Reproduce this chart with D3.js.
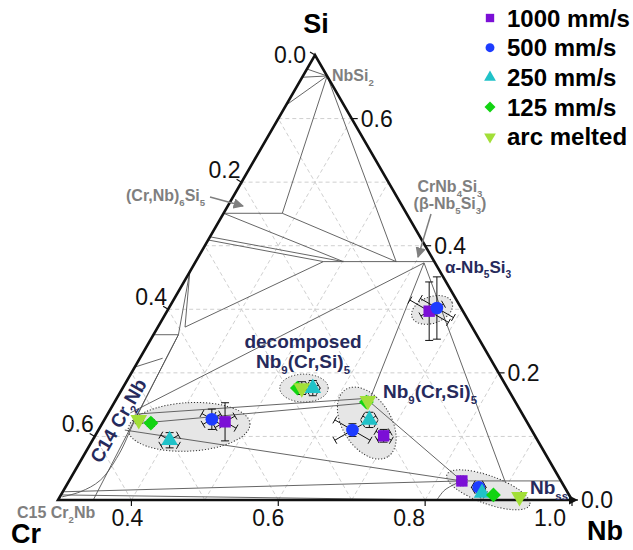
<!DOCTYPE html>
<html>
<head>
<meta charset="utf-8">
<script src="https://cdn.jsdelivr.net/npm/d3@7"></script>
<style>
  body { margin: 0; background: #fff; }
  text { font-family: "Liberation Sans", Arial, sans-serif; }
</style>
</head>
<body>
<svg id="chart" width="633" height="550"></svg>
<script>
// legend / series
const speedLabels = ["1000 mm/s", "500 mm/s", "250 mm/s", "125 mm/s", "arc melted"];
const speedColors = ["#7b0fd6", "#1d3cff", "#20c2c8", "#12d412", "#a2df38"];

// measured phase compositions [Nb, Si] (at. fraction), one list per cooling rate
const pts1000 = [[0.466, 0.123], [0.693, 0.101], [0.657, 0.297], [0.835, 0.030]];
const pts500 = [[0.446, 0.127], [0.646, 0.110], [0.665, 0.302], [0.863, 0.020]];
const pts250 = [[0.405, 0.094], [0.559, 0.176], [0.661, 0.126], [0.872, 0.011]];
const pts125 = [[0.366, 0.121], [0.538, 0.176], [0.643, 0.154], [0.889, 0.008]];
const ptsArc = [[0.347, 0.126], [0.544, 0.176], [0.644, 0.156], [0.926, 0.005]];

// error half-widths [Si, Nb, Cr]
const err1000 = [[0.030, 0.020, 0.018], [0.010, 0.014, 0.012], [0.046, 0.035, 0.015], [0.004, 0.006, 0.006]];
const err500 = [[0.016, 0.018, 0.016], [0.010, 0.032, 0.032], [0.049, 0.030, 0.012], [0.006, 0.010, 0.010]];
const err250 = [[0.012, 0.016, 0.016], [0.012, 0.010, 0.010], [0.012, 0.012, 0.012], [0.005, 0.006, 0.006]];
const err125 = [[0.005, 0.006, 0.006], [0.004, 0.004, 0.004], [0.004, 0.005, 0.005], [0.003, 0.004, 0.004]];
const errArc = [[0.005, 0.006, 0.006], [0.010, 0.010, 0.010], [0.004, 0.005, 0.005], [0.003, 0.004, 0.004]];

// phase boundaries / tie lines, [[Nb, Si], [Nb, Si]]
const tieLines = [
  [[0.333, 0.667], [0.30, 0.665]],
  [[0.333, 0.667], [0.30, 0.678]],
  [[0.333, 0.667], [0.30, 0.621]],
  [[0.333, 0.667], [0.380, 0.451]],
  [[0.333, 0.667], [0.573, 0.375]],
  [[0.30, 0.451], [0.380, 0.451]],
  [[0.380, 0.451], [0.573, 0.375]],
  [[0.30, 0.451], [0.501, 0.375]],
  [[0.30, 0.414], [0.501, 0.375]],
  [[0.30, 0.409], [0.474, 0.375]],
  [[0.474, 0.375], [0.625, 0.375]],
  [[0.337, 0.272], [0.474, 0.375]],
  [[0.30, 0.359], [0.334, 0.260]],
  [[0.30, 0.359], [0.337, 0.272]],
  [[0.30, 0.260], [0.334, 0.260]],
  [[0.30, 0.209], [0.331, 0.223]],
  [[0.348, 0.0], [0.334, 0.260]],
  [[0.330, 0.137], [0.612, 0.373]],
  [[0.337, 0.135], [0.642, 0.160]],
  [[0.345, 0.120], [0.646, 0.153]],
  [[0.336, 0.110], [0.835, 0.030]],
  [[0.648, 0.154], [0.835, 0.030]],
  [[0.612, 0.373], [0.646, 0.155]],
  [[0.612, 0.373], [0.896, 0.027]],
  [[0.625, 0.375], [0.973, 0.027]],
  [[0.302, 0.013], [0.835, 0.030]],
  [[0.301, 0.008], [0.816, 0.0]],
  [[0.835, 0.030], [0.970, 0.030]]
];
const c14Boundary = [[0.334, 0.260], [0.342, 0.126], [0.347, 0.071], [0.342, 0.031], [0.324, 0.013], [0.303, 0.005]];
const nbssBoundary = [[0.816, 0.0], [0.819, 0.016], [0.835, 0.030]];

// phase-field outlines: [Nb, Si, semi-axis a, semi-axis b, tilt deg]
const phaseFields = [
  [0.421, 0.115, 0.083, 0.033, -3],
  [0.547, 0.176, 0.033, 0.019, 0],
  [0.660, 0.121, 0.054, 0.033, 58],
  [0.660, 0.299, 0.029, 0.018, -20],
  [0.878, 0.016, 0.060, 0.019, 20]
];

const nbTicks = [0.4, 0.6, 0.8, 1.0];
const crTicks = [0.0, 0.2, 0.4, 0.6];
const siTicks = [0.0, 0.2, 0.4, 0.6];

const svg = d3.select("#chart");

// ternary frame: Nb from 0.3 to 1, Si from 0 to 0.7
const nbScale = d3.scaleLinear().domain([0.3, 1.0]).range([58, 572]);
const siScale = d3.scaleLinear().domain([0, 0.7]).range([500, 55]);
const unit = siScale(0) - siScale(1); // px per unit of composition (perpendicular)

function pos(nb, si) {
  return [nbScale(nb + si / 2), siScale(si)];
}

const line = d3.line().x((d) => pos(d[0], d[1])[0]).y((d) => pos(d[0], d[1])[1]);

// grid
const grid = svg.append("g").attr("stroke", "#c9c9c9").attr("stroke-dasharray", "4,3").attr("stroke-width", 0.9);
d3.range(1, 7).forEach((i) => {
  const v = i / 10;
  grid.append("path").attr("d", line([[0.3, v], [1 - v, v]]));             // Si const
  grid.append("path").attr("d", line([[0.3 + v, 0], [0.3 + v, 0.7 - v]])); // Nb const
  grid.append("path").attr("d", line([[1 - v, 0], [0.3, 0.7 - v]]));       // Cr const
});

// phase field ellipses
svg.append("g").selectAll("ellipse").data(phaseFields).join("ellipse")
  .attr("cx", 0).attr("cy", 0)
  .attr("rx", (d) => d[2] * (nbScale(1) - nbScale(0)))
  .attr("ry", (d) => d[3] * (nbScale(1) - nbScale(0)))
  .attr("transform", (d) => { const p = pos(d[0], d[1]); return `translate(${p[0]},${p[1]}) rotate(${d[4]})`; })
  .attr("fill", "#e6e6e6")
  .attr("stroke", "#333")
  .attr("stroke-width", 1)
  .attr("stroke-dasharray", "1.2,1.8");

// phase lines
const phase = svg.append("g").attr("fill", "none").attr("stroke", "#555").attr("stroke-width", 0.9);
phase.selectAll("path.tie").data(tieLines).join("path").attr("class", "tie").attr("d", line);
const curve = d3.line().curve(d3.curveCatmullRom).x((d) => pos(d[0], d[1])[0]).y((d) => pos(d[0], d[1])[1]);
phase.append("path").attr("d", curve(c14Boundary));
phase.append("path").attr("d", curve(nbssBoundary));

// frame
const BL = pos(0.3, 0), BR = pos(1, 0), TOP = pos(0.3, 0.7);
svg.append("path")
  .attr("d", `M${BL}L${BR}L${TOP}Z`)
  .attr("fill", "none").attr("stroke", "#111").attr("stroke-width", 2.6).attr("stroke-linejoin", "miter");
svg.append("path")
  .attr("d", `M${BR[0] + 6},${BR[1]}l-9,-4.5l0,9z`).attr("fill", "#111");

// ticks and tick labels
const ticks = svg.append("g").attr("stroke", "#111").attr("stroke-width", 1.2);
const tickLabels = svg.append("g").attr("font-size", 23).attr("fill", "#111");
nbTicks.forEach((v) => {
  const x = nbScale(v);
  ticks.append("line").attr("x1", x).attr("x2", x).attr("y1", 500).attr("y2", 506);
  tickLabels.append("text").attr("x", x - 4 - 30 * (v - 0.4)).attr("y", 526)
    .attr("text-anchor", "middle").text(v.toFixed(1));
});
crTicks.forEach((v) => {
  const p = pos(0.3, 0.7 - v);
  ticks.append("line").attr("x1", p[0]).attr("y1", p[1]).attr("x2", p[0] - 5).attr("y2", p[1] - 3);
  const apex = v === 0;
  tickLabels.append("text").attr("x", p[0] - (apex ? 25 : 17)).attr("y", p[1] + (apex ? 8 : -4))
    .attr("text-anchor", "middle").text(v.toFixed(1));
});
siTicks.forEach((v) => {
  const p = pos(1 - v, v);
  ticks.append("line").attr("x1", p[0]).attr("y1", p[1]).attr("x2", p[0] + 6).attr("y2", p[1]);
  tickLabels.append("text").attr("x", p[0] + 9).attr("y", p[1] + 8).text(v.toFixed(1));
});

// corner labels
const corner = svg.append("g").attr("font-size", 27).attr("font-weight", "bold").attr("fill", "#000");
corner.append("text").attr("x", 316).attr("y", 33).attr("text-anchor", "middle").text("Si");
corner.append("text").attr("x", 26).attr("y", 543).attr("text-anchor", "middle").text("Cr");
corner.append("text").attr("x", 587).attr("y", 540).text("Nb");

// rich text with subscripts
function rich(parent, parts, x, y, size, color, anchor, rotate) {
  const t = parent.append("text")
    .attr("font-size", size).attr("font-weight", "bold").attr("fill", color)
    .attr("text-anchor", anchor || "start");
  if (rotate) t.attr("transform", `translate(${x},${y}) rotate(${rotate})`);
  else t.attr("x", x).attr("y", y);
  let shift = 0;
  parts.forEach((p) => {
    const sub = Array.isArray(p);
    const target = sub ? size * 0.3 : 0;
    const s = t.append("tspan").text(sub ? p[0] : p).attr("dy", target - shift);
    if (sub) s.attr("font-size", size * 0.6);
    shift = target;
  });
  return t;
}

const navy = "#262a5c", gray = "#7f7f7f";
const notes = svg.append("g");
rich(notes, ["NbSi", ["2"]], 332, 81, 16, gray);
rich(notes, ["(Cr,Nb)", ["6"], "Si", ["5"]], 126, 201, 16, gray);
rich(notes, ["CrNb", ["4"], "Si", ["3"]], 450, 192, 16, gray, "middle");
rich(notes, ["(β-Nb", ["5"], "Si", ["3"], ")"], 450, 209, 16, gray, "middle");
rich(notes, ["C15 Cr", ["2"], "Nb"], 17, 518, 16, gray);
rich(notes, ["α-Nb", ["5"], "Si", ["3"]], 445, 273, 17, navy);
rich(notes, ["decomposed"], 303, 348, 19, navy, "middle");
rich(notes, ["Nb", ["9"], "(Cr,Si)", ["5"]], 303, 368, 19, navy, "middle");
rich(notes, ["Nb", ["9"], "(Cr,Si)", ["5"]], 383, 398, 19, navy);
rich(notes, ["Nb", ["ss"]], 530, 494, 19, navy);
rich(notes, ["C14 Cr", ["2"], "Nb"], 124, 424, 19, navy, "middle", -60);

// arrows
svg.append("defs").append("marker")
  .attr("id", "head").attr("viewBox", "0 0 10 10").attr("refX", 9).attr("refY", 5)
  .attr("markerWidth", 7).attr("markerHeight", 7).attr("orient", "auto")
  .append("path").attr("d", "M0,0L10,5L0,10z").attr("fill", gray);
const arrows = [[[210, 197], [243, 206]], [[431, 214], [418, 257]]];
svg.append("g").selectAll("line").data(arrows).join("line")
  .attr("x1", (d) => d[0][0]).attr("y1", (d) => d[0][1])
  .attr("x2", (d) => d[1][0]).attr("y2", (d) => d[1][1])
  .attr("stroke", gray).attr("stroke-width", 1.5).attr("marker-end", "url(#head)");

// series
const series = [
  { pts: pts1000, err: err1000, shape: d3.symbolSquare, rot: 0, size: 130, legendSize: 70 },
  { pts: pts500, err: err500, shape: d3.symbolCircle, rot: 0, size: 125, legendSize: 62 },
  { pts: pts250, err: err250, shape: d3.symbolTriangle, rot: 0, size: 120, legendSize: 60 },
  { pts: pts125, err: err125, shape: d3.symbolSquare, rot: 45, size: 110, legendSize: 60 },
  { pts: ptsArc, err: errArc, shape: d3.symbolTriangle, rot: 180, size: 120, legendSize: 60 }
];

// error bars along Si (up), Nb (down-right) and Cr (down-left)
const dirs = [[0, -1], [0.866, 0.5], [-0.866, 0.5]];
const eb = svg.append("g").attr("stroke", "#111").attr("stroke-width", 1);
series.forEach((s) => {
  s.pts.forEach((p, i) => {
    const [x, y] = pos(p[0], p[1]);
    s.err[i].forEach((e, k) => {
      const L = e * unit;
      if (L < 3) return;
      const [dx, dy] = dirs[k];
      eb.append("line").attr("x1", x - dx * L).attr("y1", y - dy * L).attr("x2", x + dx * L).attr("y2", y + dy * L);
      [-1, 1].forEach((sg) => {
        const cx = x + sg * dx * L, cy = y + sg * dy * L;
        eb.append("line")
          .attr("x1", cx - dy * 4).attr("y1", cy + dx * 4)
          .attr("x2", cx + dy * 4).attr("y2", cy - dx * 4);
      });
    });
  });
});

// markers
series.forEach((s, i) => {
  svg.append("g").selectAll("path").data(s.pts).join("path")
    .attr("d", d3.symbol().type(s.shape).size(s.size))
    .attr("transform", (d) => { const p = pos(d[0], d[1]); return `translate(${p[0]},${p[1]}) rotate(${s.rot})`; })
    .attr("fill", speedColors[i]);
});

// legend
const legend = svg.append("g").attr("transform", "translate(490,18)");
speedLabels.forEach((lab, i) => {
  const row = legend.append("g").attr("transform", `translate(0,${i * 29.7})`);
  row.append("path")
    .attr("d", d3.symbol().type(series[i].shape).size(series[i].legendSize))
    .attr("transform", `rotate(${series[i].rot})`)
    .attr("fill", speedColors[i]);
  row.append("text").attr("x", 17).attr("y", 8.5)
    .attr("font-size", 24).attr("font-weight", "bold").attr("fill", "#000").text(lab);
});
</script>
</body>
</html>
